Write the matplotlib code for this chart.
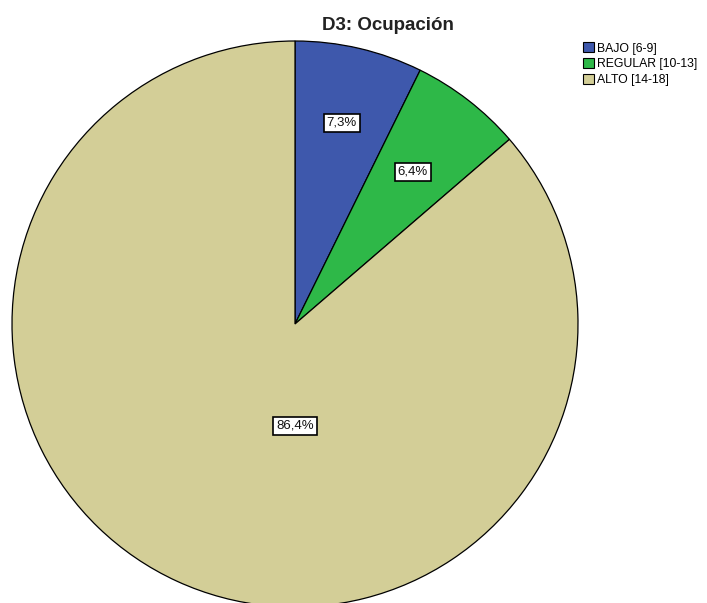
import matplotlib
matplotlib.use("Agg")
import matplotlib.pyplot as plt
import numpy as np
from matplotlib.patches import Patch

categories = ["BAJO [6-9]", "REGULAR [10-13]", "ALTO [14-18]"]
values = [7.3, 6.4, 86.4]
pct_labels = ["7,3%", "6,4%", "86,4%"]
colors = ["#3E58AC", "#2EB848", "#D3CE97"]

plt.rcParams['font.family'] = ['Liberation Sans', 'DejaVu Sans']

W, H = 707, 603
fig = plt.figure(figsize=(W / 100, H / 100), dpi=100)
ax = fig.add_axes([0, 0, 1, 1])

cx, cy, R = 295, H - 324, 283
wedges, _ = ax.pie(values, colors=colors, startangle=90, counterclock=False,
                   center=(cx, cy), radius=R, frame=True,
                   wedgeprops=dict(edgecolor='black', linewidth=0.9))
ax.set_xlim(0, W)
ax.set_ylim(0, H)
ax.set_aspect('equal')
ax.axis('off')

# label placement: (angle override in degrees or None, radius fraction)
label_ang = [None, None, 270]
label_r = [0.73, 0.68, 0.36]
for w, lab, a, rf in zip(wedges, pct_labels, label_ang, label_r):
    ang = np.deg2rad((w.theta1 + w.theta2) / 2 if a is None else a)
    x = cx + rf * R * np.cos(ang)
    y = cy + rf * R * np.sin(ang)
    ax.text(x, y, lab, ha='center', va='center', fontsize=9.5, color='#111111',
            bbox=dict(boxstyle='square,pad=0.22', fc='white', ec='black', lw=1.2))

fig.text(388 / W, 1 - 26 / H, "D3: Ocupación", ha='center', va='center',
         fontsize=13.5, fontweight='bold', color='#222222')

handles = [Patch(facecolor=c, edgecolor='black', linewidth=0.8) for c in colors]
fig.legend(handles, categories, loc='upper left', bbox_to_anchor=(581 / W, 1 - 40 / H),
           frameon=False, fontsize=8.8, handlelength=0.85, handleheight=0.85,
           handletextpad=0.25, labelspacing=0.3, borderpad=0.2, borderaxespad=0)

fig.savefig("out.png", dpi=100)
